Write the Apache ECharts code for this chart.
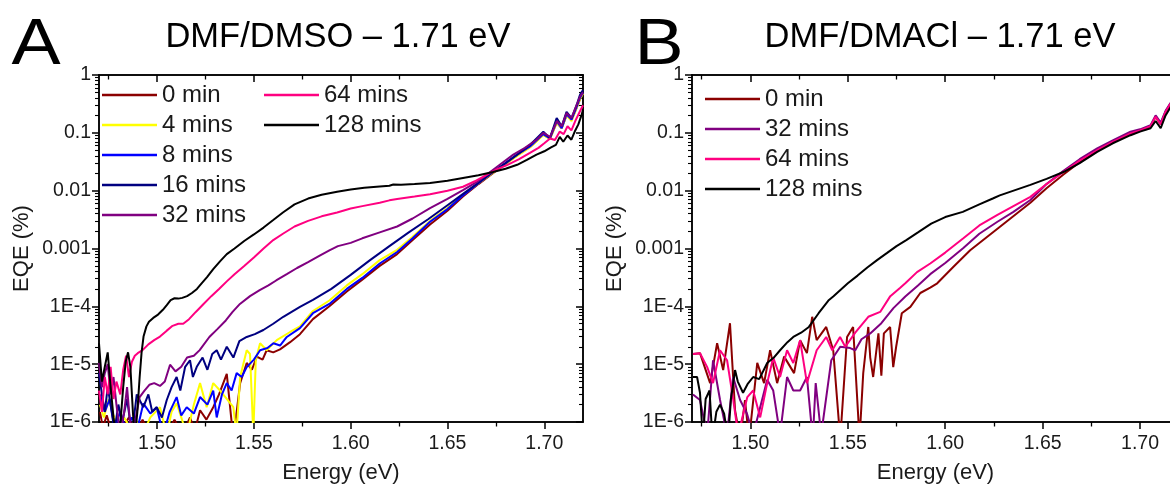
<!DOCTYPE html>
<html><head><meta charset="utf-8">
<script src="https://cdn.jsdelivr.net/npm/echarts@6/dist/echarts.min.js"></script>
<style>html,body{margin:0;padding:0;background:#fff}#c{width:1170px;height:486px}</style>
</head><body><div id="c"></div>
<script>
// ---------- tick labels ----------
const xTickValues = [1.50, 1.55, 1.60, 1.65, 1.70];
const xMinorValues = [1.475, 1.525, 1.575, 1.625, 1.675];
const legendA1 = ['0 min','4 mins','8 mins','16 mins','32 mins'];
const legendA2 = ['64 mins','128 mins'];
const legendB = ['0 min','32 mins','64 mins','128 mins'];

// ---------- panel A : DMF/DMSO ----------
const A0 = [[1.4705,1.5e-6],[1.472,8e-7],[1.474,1.3e-6],[1.477,6e-7],[1.482,8e-7],[1.4855,1.2e-6],[1.489,6e-7],[1.4925,1.1e-6],[1.496,6e-7],[1.500,9e-7],[1.505,6e-7],[1.509,1.1e-6],[1.513,6e-7],[1.517,1.2e-6],[1.5195,7e-7],[1.5222,1.6e-6],[1.5255,1.1e-6],[1.529,1.8e-6],[1.532,3.0e-6],[1.536,6.8e-6],[1.5394,5e-7],[1.5429,4.7e-6],[1.5463,1.05e-5],[1.549,8e-6],[1.5515,1.35e-5],[1.5545,1.2e-5],[1.5566,1.74e-5],[1.560,1.6e-5],[1.5635,1.8e-5],[1.5687,2.4e-5],[1.5738,3.3e-5],[1.5805,6.0e-5],[1.589,1.0e-4],[1.598,1.8e-4],[1.606,2.9e-4],[1.615,5.0e-4],[1.624,8.0e-4],[1.632,1.4e-3],[1.641,2.6e-3],[1.650,4.5e-3],[1.658,7.9e-3],[1.666,1.3e-2],[1.6735,2.0e-2],[1.680,2.9e-2],[1.686,4.1e-2],[1.6926,5.7e-2],[1.6995,9.3e-2],[1.7029,7.9e-2],[1.7064,0.15],[1.709,0.12],[1.7115,0.2],[1.7141,0.17],[1.7167,0.27],[1.7184,0.38],[1.720,0.48]];
const A4 = [[1.4705,2e-6],[1.4725,1.2e-6],[1.475,2.5e-6],[1.4775,1.3e-6],[1.480,7e-7],[1.483,1.2e-6],[1.486,8e-7],[1.489,1.1e-6],[1.4925,6e-7],[1.4965,1.2e-6],[1.5015,1.8e-6],[1.505,6e-7],[1.5075,1.5e-6],[1.5101,2.1e-6],[1.5125,1.2e-6],[1.5153,6e-7],[1.519,2.0e-6],[1.5222,4.7e-6],[1.5256,1.8e-6],[1.529,4.7e-6],[1.5325,3.5e-6],[1.536,2.5e-6],[1.5394,1.8e-6],[1.541,6e-7],[1.5429,6e-6],[1.5463,1.74e-5],[1.548,1.5e-5],[1.5497,6e-7],[1.551,1.2e-5],[1.5532,2.3e-5],[1.5566,1.74e-5],[1.5618,2.6e-5],[1.5687,3.6e-5],[1.5738,4.5e-5],[1.5805,8.3e-5],[1.589,1.26e-4],[1.598,2.3e-4],[1.606,3.6e-4],[1.615,6.3e-4],[1.624,9.5e-4],[1.632,1.6e-3],[1.641,3.0e-3],[1.650,5.0e-3],[1.658,8.5e-3],[1.666,1.35e-2],[1.6735,2.05e-2],[1.680,2.9e-2],[1.686,4.0e-2],[1.6926,5.6e-2],[1.6995,9.2e-2],[1.7029,7.8e-2],[1.7064,0.15],[1.709,0.12],[1.7115,0.2],[1.7141,0.16],[1.7167,0.27],[1.7184,0.38],[1.720,0.48]];
const A8 = [[1.4705,3e-6],[1.473,1.5e-6],[1.4755,2.5e-6],[1.478,8e-7],[1.481,1.5e-6],[1.484,7e-7],[1.487,1.2e-6],[1.490,8e-7],[1.4929,2.1e-6],[1.4965,1.4e-6],[1.4998,1.8e-6],[1.5032,6e-7],[1.5065,1.5e-6],[1.5101,2.7e-6],[1.5125,1.3e-6],[1.5153,1.8e-6],[1.519,1.4e-6],[1.5222,2.7e-6],[1.526,2.0e-6],[1.529,3.5e-6],[1.5308,1.2e-6],[1.5335,3.0e-6],[1.536,4.7e-6],[1.5385,3.5e-6],[1.5411,7e-6],[1.5437,6e-6],[1.5463,8.9e-6],[1.550,1.2e-5],[1.5532,1.74e-5],[1.557,1.9e-5],[1.5601,2.3e-5],[1.5635,2.1e-5],[1.567,2.95e-5],[1.5738,4.2e-5],[1.5805,7.6e-5],[1.589,1.1e-4],[1.598,2.0e-4],[1.606,3.1e-4],[1.615,5.5e-4],[1.624,8.7e-4],[1.632,1.5e-3],[1.641,2.9e-3],[1.650,4.8e-3],[1.658,8.3e-3],[1.666,1.35e-2],[1.6735,2.1e-2],[1.680,3.0e-2],[1.686,4.2e-2],[1.6926,5.8e-2],[1.6995,9.5e-2],[1.7029,8e-2],[1.7064,0.16],[1.709,0.12],[1.7115,0.21],[1.7141,0.17],[1.7167,0.28],[1.7184,0.4],[1.720,0.5]];
const A16 = [[1.470,7e-6],[1.4715,3e-6],[1.473,1.5e-6],[1.4745,4e-6],[1.476,2e-6],[1.478,7e-7],[1.480,2e-6],[1.482,1e-6],[1.4845,2.5e-6],[1.487,6e-7],[1.4895,3e-6],[1.4929,1.8e-6],[1.4955,3e-6],[1.4975,1.5e-6],[1.4998,1.8e-6],[1.5025,1.2e-6],[1.505,2.4e-6],[1.5075,4e-6],[1.5101,6e-6],[1.512,3.5e-6],[1.5145,9e-6],[1.517,1.17e-5],[1.5185,6e-6],[1.5205,9e-6],[1.5235,1.3e-5],[1.526,8e-6],[1.5285,1.5e-5],[1.5308,1.74e-5],[1.533,1.2e-5],[1.536,2.0e-5],[1.5394,1.3e-5],[1.5425,2.5e-5],[1.5463,2.95e-5],[1.5505,3.3e-5],[1.5549,3.9e-5],[1.560,5.0e-5],[1.5652,6.6e-5],[1.5738,9.8e-5],[1.5805,1.29e-4],[1.590,2.0e-4],[1.600,3.5e-4],[1.610,6.3e-4],[1.620,1.1e-3],[1.630,1.9e-3],[1.640,3.2e-3],[1.650,5.6e-3],[1.660,9.8e-3],[1.667,1.45e-2],[1.6735,2.1e-2],[1.680,3.0e-2],[1.686,4.2e-2],[1.6926,6.2e-2],[1.6995,0.105],[1.7029,8.1e-2],[1.7064,0.18],[1.709,0.13],[1.7115,0.23],[1.7141,0.18],[1.7167,0.3],[1.7184,0.45],[1.720,0.55]];
const A32 = [[1.470,1.05e-5],[1.4715,4e-6],[1.473,7e-6],[1.4745,1.0e-5],[1.476,3e-6],[1.4775,6e-6],[1.479,2e-6],[1.481,6e-7],[1.483,1.5e-6],[1.4845,4e-6],[1.486,1e-6],[1.4875,5e-7],[1.489,1.2e-6],[1.491,2.7e-6],[1.4935,3.5e-6],[1.496,4.4e-6],[1.4985,4.7e-6],[1.5015,4.2e-6],[1.504,5.0e-6],[1.5067,9.8e-6],[1.5095,7.5e-6],[1.5125,9.0e-6],[1.5155,1.3e-5],[1.519,1.4e-5],[1.522,1.75e-5],[1.527,2.95e-5],[1.531,4.0e-5],[1.5355,5.7e-5],[1.539,8.0e-5],[1.5428,1.1e-4],[1.548,1.5e-4],[1.553,1.9e-4],[1.5575,2.3e-4],[1.5615,2.8e-4],[1.567,3.6e-4],[1.5723,4.6e-4],[1.578,5.8e-4],[1.584,7.5e-4],[1.589,9.3e-4],[1.5934,1.1e-3],[1.600,1.25e-3],[1.606,1.5e-3],[1.615,1.9e-3],[1.624,2.4e-3],[1.632,3.3e-3],[1.641,5.0e-3],[1.650,7.2e-3],[1.658,1.02e-2],[1.665,1.4e-2],[1.670,1.86e-2],[1.677,2.8e-2],[1.684,4.2e-2],[1.690,5.5e-2],[1.696,7.6e-2],[1.6995,0.1],[1.703,8.5e-2],[1.7065,0.16],[1.709,0.13],[1.7115,0.22],[1.714,0.18],[1.7167,0.3],[1.7184,0.42],[1.720,0.5]];
const A64 = [[1.470,3.5e-6],[1.4715,1.5e-6],[1.473,6e-6],[1.4745,3e-6],[1.476,9e-6],[1.4775,2.5e-6],[1.479,5e-6],[1.481,3e-6],[1.4825,8e-6],[1.484,1.4e-5],[1.4855,6e-6],[1.487,1.1e-5],[1.4885,1.4e-5],[1.490,1.55e-5],[1.4925,1.75e-5],[1.4955,2.2e-5],[1.4985,2.6e-5],[1.5015,3.0e-5],[1.505,3.8e-5],[1.508,4.6e-5],[1.511,5.0e-5],[1.5135,5.0e-5],[1.5165,6.0e-5],[1.520,8.0e-5],[1.524,1.1e-4],[1.528,1.5e-4],[1.532,2.0e-4],[1.536,2.7e-4],[1.540,3.6e-4],[1.545,5.0e-4],[1.550,7.0e-4],[1.555,1.0e-3],[1.560,1.4e-3],[1.565,1.8e-3],[1.571,2.4e-3],[1.578,3.0e-3],[1.585,3.6e-3],[1.593,4.2e-3],[1.600,4.9e-3],[1.606,5.4e-3],[1.615,6.2e-3],[1.620,6.8e-3],[1.624,7.2e-3],[1.633,7.9e-3],[1.641,8.7e-3],[1.650,1.0e-2],[1.658,1.17e-2],[1.665,1.5e-2],[1.670,1.85e-2],[1.675,2.3e-2],[1.681,2.8e-2],[1.687,3.5e-2],[1.6926,4.5e-2],[1.697,5.5e-2],[1.700,6.6e-2],[1.703,8.0e-2],[1.7055,7.5e-2],[1.708,0.105],[1.710,9.5e-2],[1.712,0.13],[1.714,0.11],[1.716,0.16],[1.718,0.22],[1.720,0.3]];
const A128 = [[1.470,2.3e-5],[1.4715,5e-6],[1.473,9e-6],[1.4745,1.6e-5],[1.476,4e-6],[1.4775,1.2e-6],[1.479,5e-7],[1.481,9e-7],[1.4825,4e-6],[1.4838,1.1e-5],[1.485,1.6e-5],[1.4862,9e-6],[1.4875,1.5e-6],[1.4885,5e-7],[1.4898,1.5e-6],[1.491,6e-6],[1.492,1.6e-5],[1.493,3.0e-5],[1.4945,4.5e-5],[1.4958,5.4e-5],[1.498,6.3e-5],[1.5005,7.2e-5],[1.503,8.7e-5],[1.505,1.05e-4],[1.507,1.28e-4],[1.509,1.38e-4],[1.511,1.36e-4],[1.513,1.4e-4],[1.5155,1.5e-4],[1.518,1.7e-4],[1.5206,2.0e-4],[1.523,2.5e-4],[1.5258,3.2e-4],[1.529,4.4e-4],[1.5325,6.0e-4],[1.536,8.0e-4],[1.540,1.0e-3],[1.545,1.35e-3],[1.550,1.75e-3],[1.555,2.3e-3],[1.560,3.1e-3],[1.565,4.2e-3],[1.571,5.8e-3],[1.578,7.3e-3],[1.585,8.5e-3],[1.593,9.6e-3],[1.600,1.05e-2],[1.607,1.12e-2],[1.615,1.18e-2],[1.620,1.22e-2],[1.622,1.28e-2],[1.626,1.26e-2],[1.633,1.3e-2],[1.641,1.36e-2],[1.650,1.48e-2],[1.658,1.66e-2],[1.666,1.85e-2],[1.6735,2.1e-2],[1.680,2.4e-2],[1.686,2.8e-2],[1.691,3.4e-2],[1.696,4.2e-2],[1.700,4.8e-2],[1.7035,5.6e-2],[1.706,6.2e-2],[1.708,8.5e-2],[1.7098,7.0e-2],[1.712,9.0e-2],[1.714,7.6e-2],[1.716,0.11],[1.7176,0.14],[1.7192,0.2],[1.720,0.25]];

// ---------- panel B : DMF/DMACl ----------
const B0 = [[1.4705,1.5e-5],[1.4741,1.55e-5],[1.4793,4.7e-6],[1.4829,2.3e-5],[1.486,7.9e-6],[1.4895,5.1e-5],[1.4921,1.6e-6],[1.4947,5e-7],[1.4972,2.4e-6],[1.4993,5e-7],[1.5035,1.05e-5],[1.507,4.7e-6],[1.5101,1.74e-5],[1.5137,4.7e-6],[1.5173,1.35e-5],[1.5224,7e-6],[1.5255,2.6e-5],[1.529,1.55e-5],[1.5317,6.6e-5],[1.534,2.6e-5],[1.5389,4.4e-5],[1.5425,1.74e-5],[1.5461,5e-7],[1.5496,2.95e-5],[1.5527,4.4e-5],[1.556,5e-7],[1.5579,7e-6],[1.5605,4.4e-5],[1.5615,1.3e-5],[1.563,6e-6],[1.5657,3.4e-5],[1.5672,6.3e-6],[1.5685,3.4e-5],[1.5717,4.4e-5],[1.5733,8.9e-6],[1.5748,2.0e-5],[1.5777,7.6e-5],[1.5821,9.8e-5],[1.5872,1.7e-4],[1.5923,2.1e-4],[1.5959,2.5e-4],[1.6041,4.8e-4],[1.6128,9.3e-4],[1.6268,2.2e-3],[1.6437,6.2e-3],[1.652,1.1e-2],[1.6607,1.9e-2],[1.669,3.1e-2],[1.678,5.0e-2],[1.686,7.1e-2],[1.6951,9.8e-2],[1.700,0.11],[1.7054,0.13],[1.708,0.19],[1.7106,0.14],[1.7131,0.23],[1.7157,0.32],[1.720,0.36]];
const B32 = [[1.4705,3e-6],[1.4741,2.4e-6],[1.4778,6e-7],[1.4808,1.17e-5],[1.4844,2.4e-6],[1.488,6e-7],[1.4911,6e-6],[1.4947,2.4e-6],[1.4982,1.4e-6],[1.5014,6e-7],[1.5086,5.4e-6],[1.5117,3.5e-6],[1.5152,6e-7],[1.5188,6e-6],[1.522,3.5e-6],[1.5255,3.5e-6],[1.529,6e-6],[1.532,5e-7],[1.5335,4.7e-6],[1.5363,6e-7],[1.5399,4.7e-6],[1.5415,1.17e-5],[1.5461,2.0e-5],[1.5512,1.9e-5],[1.5538,1.74e-5],[1.557,2.7e-5],[1.5615,3.4e-5],[1.5672,5.1e-5],[1.5734,9.3e-5],[1.5795,1.48e-4],[1.586,2.3e-4],[1.5923,3.6e-4],[1.600,5.6e-4],[1.6093,1.02e-3],[1.6175,1.8e-3],[1.6268,2.9e-3],[1.635,4.3e-3],[1.6437,6.9e-3],[1.652,1.3e-2],[1.6607,2.2e-2],[1.669,3.5e-2],[1.678,5.4e-2],[1.686,7.4e-2],[1.6951,0.105],[1.700,0.115],[1.7054,0.135],[1.708,0.2],[1.7106,0.15],[1.7131,0.24],[1.7157,0.33],[1.720,0.37]];
const B64 = [[1.4705,1.5e-5],[1.4741,1.55e-5],[1.4778,8.9e-6],[1.4808,4.7e-6],[1.4844,1.74e-5],[1.488,1.17e-5],[1.4912,2.4e-6],[1.4937,6e-7],[1.4984,2.7e-6],[1.5014,3.5e-6],[1.505,1.2e-6],[1.5086,4.7e-6],[1.5117,1.3e-5],[1.5152,6e-6],[1.5188,1.74e-5],[1.522,1.05e-5],[1.5255,2.6e-5],[1.529,4.7e-6],[1.534,1.74e-5],[1.5389,2.95e-5],[1.542,1.74e-5],[1.546,2.95e-5],[1.5487,2.0e-5],[1.5538,3.5e-5],[1.5605,6.6e-5],[1.5666,8.0e-5],[1.5718,1.5e-4],[1.5769,2.1e-4],[1.5795,2.5e-4],[1.5855,3.9e-4],[1.5923,5.5e-4],[1.600,8.5e-4],[1.6093,1.5e-3],[1.6175,2.5e-3],[1.6268,3.8e-3],[1.635,5.4e-3],[1.6437,7.8e-3],[1.652,1.3e-2],[1.6607,2.1e-2],[1.669,3.3e-2],[1.678,5.0e-2],[1.686,7.0e-2],[1.6951,9.8e-2],[1.700,0.11],[1.7054,0.13],[1.708,0.19],[1.7106,0.14],[1.7131,0.23],[1.7157,0.32],[1.720,0.36]];
const B128 = [[1.4705,6e-6],[1.4726,6e-6],[1.4741,3.2e-6],[1.4756,5e-7],[1.477,2.5e-6],[1.479,3.5e-6],[1.4805,5e-7],[1.4825,1.5e-6],[1.4844,2e-6],[1.4865,1.4e-6],[1.4885,5e-7],[1.490,2.5e-6],[1.4921,7.9e-6],[1.4935,5e-6],[1.4962,3.2e-6],[1.4985,4.5e-6],[1.5014,6e-6],[1.5045,5.5e-6],[1.5086,1.05e-5],[1.512,1.3e-5],[1.5152,1.74e-5],[1.519,2.4e-5],[1.522,2.95e-5],[1.526,3.5e-5],[1.530,4.4e-5],[1.535,7.6e-5],[1.540,1.26e-4],[1.5425,1.48e-4],[1.550,2.5e-4],[1.555,3.4e-4],[1.560,4.7e-4],[1.565,6.3e-4],[1.570,8.3e-4],[1.575,1.1e-3],[1.580,1.4e-3],[1.586,1.9e-3],[1.5928,2.7e-3],[1.600,3.5e-3],[1.609,4.3e-3],[1.6175,5.8e-3],[1.6247,7.4e-3],[1.628,8.3e-3],[1.6437,1.26e-2],[1.652,1.6e-2],[1.6607,2.1e-2],[1.669,3.0e-2],[1.678,4.7e-2],[1.686,6.6e-2],[1.6951,9.1e-2],[1.700,0.105],[1.7054,0.12],[1.708,0.16],[1.7106,0.12],[1.7131,0.2],[1.7157,0.28],[1.720,0.32]];

const COLORS = {'0 min':'#8B0000','4 mins':'#FFFF00','8 mins':'#0000FF','16 mins':'#000080','32 mins':'#800080','64 mins':'#FF0080','128 mins':'#000000'};
const panelA = [['0 min',A0],['4 mins',A4],['8 mins',A8],['16 mins',A16],['32 mins',A32],['64 mins',A64],['128 mins',A128]];
const panelB = [['0 min',B0],['32 mins',B32],['64 mins',B64],['128 mins',B128]];

const FONT = "'Liberation Sans', Arial, sans-serif";
const TXT = '#1a1a1a';
const yMinorTicks = [];
for (let n = -6; n < 0; n++) for (let k = 2; k <= 9; k++) yMinorTicks.push(n + Math.log10(k));

function fmtY(v){
  const p = Math.round(Math.log10(v));
  if (p >= -3) return String(Number(Math.pow(10, p).toFixed(3)));
  return '1E' + p;
}

function xAxes(g){
  const line = {show:true, onZero:false, lineStyle:{color:'#000', width:1.5}};
  const base = {type:'value', gridIndex:g, min:1.47, max:1.72, splitLine:{show:false}};
  return [
    Object.assign({}, base, {position:'bottom', axisLine:line,
      axisTick:{show:true, inside:false, length:7, customValues:xTickValues, lineStyle:{color:'#000', width:1.5}},
      axisLabel:{show:true, customValues:xTickValues, formatter:v=>v.toFixed(2), fontSize:19.5, color:TXT, fontFamily:FONT, margin:12},
      name:'Energy (eV)', nameLocation:'middle', nameGap:40, nameTextStyle:{fontSize:22, color:TXT, fontFamily:FONT}}),
    Object.assign({}, base, {position:'top', axisLine:line,
      axisTick:{show:true, inside:true, length:7, customValues:xTickValues, lineStyle:{color:'#000', width:1.5}},
      axisLabel:{show:false}}),
    Object.assign({}, base, {position:'bottom', axisLine:line,
      axisTick:{show:true, inside:false, length:4.5, customValues:xMinorValues, lineStyle:{color:'#000', width:1.3}},
      axisLabel:{show:false}}),
    Object.assign({}, base, {position:'top', axisLine:line,
      axisTick:{show:true, inside:true, length:4.5, customValues:xMinorValues, lineStyle:{color:'#000', width:1.3}},
      axisLabel:{show:false}})
  ];
}
function yAxes(g){
  const line = {show:true, onZero:false, lineStyle:{color:'#000', width:1.5}};
  const logBase = {type:'log', logBase:10, gridIndex:g, min:1e-6, max:1, splitLine:{show:false}};
  const valBase = {type:'value', gridIndex:g, min:-6, max:0, splitLine:{show:false}, axisLine:line, axisLabel:{show:false}};
  return [
    Object.assign({}, logBase, {position:'left', axisLine:line,
      axisTick:{show:true, inside:false, length:7, lineStyle:{color:'#000', width:1.5}},
      axisLabel:{show:true, formatter:fmtY, fontSize:19.5, color:TXT, fontFamily:FONT, margin:8},
      name:'EQE (%)', nameLocation:'middle', nameGap:66, nameRotate:90, nameTextStyle:{fontSize:22, color:TXT, fontFamily:FONT}}),
    Object.assign({}, logBase, {position:'right', axisLine:line,
      axisTick:{show:true, inside:true, length:7, lineStyle:{color:'#000', width:1.5}},
      axisLabel:{show:false}}),
    Object.assign({}, valBase, {position:'left',
      axisTick:{show:true, inside:false, length:4, customValues:yMinorTicks, lineStyle:{color:'#000', width:1.1}}}),
    Object.assign({}, valBase, {position:'right',
      axisTick:{show:true, inside:true, length:4, customValues:yMinorTicks, lineStyle:{color:'#000', width:1.1}}})
  ];
}

const series = [];
panelA.forEach(([name, data]) => series.push({name, type:'line', xAxisIndex:0, yAxisIndex:0, data, showSymbol:false, symbol:'none', clip:true, lineStyle:{width:2, color:COLORS[name]}, itemStyle:{color:COLORS[name]}, animation:false}));
panelB.forEach(([name, data]) => series.push({name, type:'line', xAxisIndex:4, yAxisIndex:4, data, showSymbol:false, symbol:'none', clip:true, lineStyle:{width:2, color:COLORS[name]}, itemStyle:{color:COLORS[name]}, animation:false}));

const legendCommon = {orient:'vertical', padding:0, itemGap:0, itemWidth:55, itemHeight:2.5, icon:'rect', selectedMode:false,
  textStyle:{fontSize:24, color:TXT, fontFamily:FONT, lineHeight:30}};

const option = {
  animation:false,
  backgroundColor:'#fff',
  grid:[{left:99, top:75, width:484, height:347, outerBoundsMode:'none', containLabel:false},
        {left:692, top:75, width:487, height:347, outerBoundsMode:'none', containLabel:false}],
  xAxis:[...xAxes(0), ...xAxes(1)],
  yAxis:[...yAxes(0), ...yAxes(1)],
  legend:[
    Object.assign({}, legendCommon, {data:legendA1, left:102, top:80}),
    Object.assign({}, legendCommon, {data:legendA2, left:264, top:80}),
    Object.assign({}, legendCommon, {data:legendB, left:705, top:84})
  ],
  graphic:[
    {type:'text', x:36, y:46, scaleX:1.15, style:{text:'A', fontSize:64, fontFamily:FONT, fill:'#000', align:'center', verticalAlign:'middle'}},
    {type:'text', x:338, y:37, style:{text:'DMF/DMSO – 1.71 eV', fontSize:34.5, fontFamily:FONT, fill:'#000', align:'center', verticalAlign:'middle'}},
    {type:'text', x:659, y:46, scaleX:1.15, style:{text:'B', fontSize:64, fontFamily:FONT, fill:'#000', align:'center', verticalAlign:'middle'}},
    {type:'text', x:940, y:37, style:{text:'DMF/DMACl – 1.71 eV', fontSize:34.5, fontFamily:FONT, fill:'#000', align:'center', verticalAlign:'middle'}}
  ],
  series
};
const chart = echarts.init(document.getElementById('c'));
chart.setOption(option);
</script></body></html>
